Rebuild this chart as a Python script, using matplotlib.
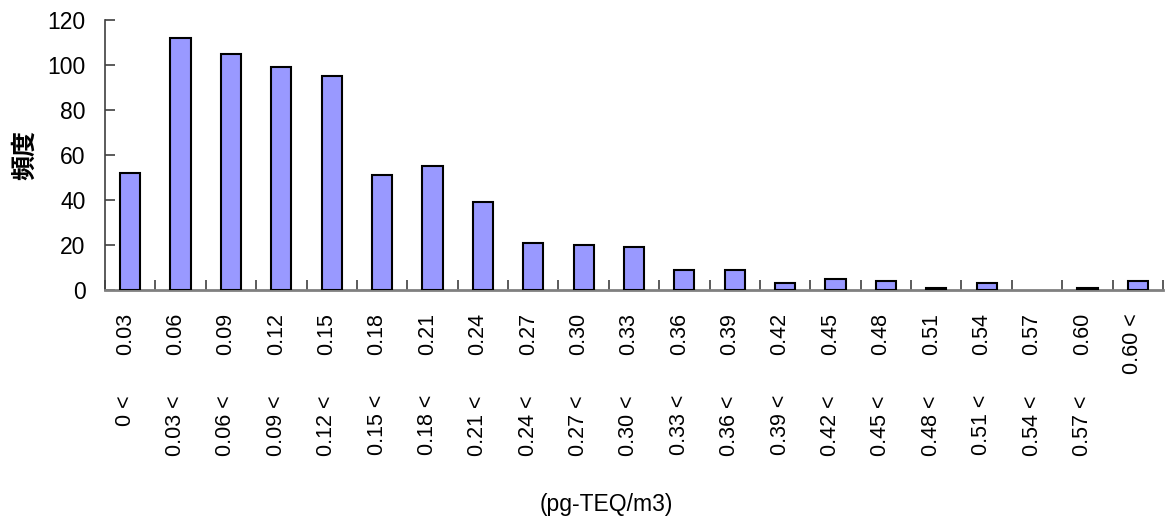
import matplotlib
matplotlib.use("Agg")
import matplotlib.pyplot as plt
import matplotlib.transforms as mtransforms

upper_labels = ["0.03", "0.06", "0.09", "0.12", "0.15", "0.18", "0.21", "0.24", "0.27", "0.30",
                "0.33", "0.36", "0.39", "0.42", "0.45", "0.48", "0.51", "0.54", "0.57", "0.60", "0.60 <"]
lower_labels = ["0 <", "0.03 <", "0.06 <", "0.09 <", "0.12 <", "0.15 <", "0.18 <", "0.21 <", "0.24 <",
                "0.27 <", "0.30 <", "0.33 <", "0.36 <", "0.39 <", "0.42 <", "0.45 <", "0.48 <", "0.51 <",
                "0.54 <", "0.57 <", ""]
counts = [52, 112, 105, 99, 95, 51, 55, 39, 21, 20, 19, 9, 9, 3, 5, 4, 1, 3, 0, 1, 4]
y_ticks = [0, 20, 40, 60, 80, 100, 120]

plt.rcParams['font.family'] = ['Liberation Sans', 'Noto Sans CJK JP', 'DejaVu Sans']

W, H = 1168, 518
fig = plt.figure(figsize=(W / 100, H / 100), dpi=100)
ax = fig.add_axes([105 / W, 1 - 290 / H, (1163 - 105) / W, (290 - 20) / H])

x = list(range(len(counts)))
ax.bar(x, counts, width=0.4, color="#9999FF", edgecolor="black",
       linewidth=[1.5 if c > 0 else 0 for c in counts], zorder=3)

ax.set_xlim(-0.5, len(counts) - 0.5)
ax.set_ylim(0, 120)
ax.set_yticks(y_ticks)
ax.set_yticklabels([str(v) for v in y_ticks], fontsize=16.5)
ax.set_xticks([i - 0.5 for i in range(len(counts) + 1)])
ax.set_xticklabels([])
ax.tick_params(axis='x', direction='in', length=7, width=1.2, color='#404040')
ax.tick_params(axis='y', direction='in', length=7, width=1.2, color='#404040', pad=14)

for s in ['top', 'right']:
    ax.spines[s].set_visible(False)
ax.spines['left'].set_color('#404040')
ax.spines['left'].set_linewidth(1.2)
ax.spines['bottom'].set_color('#808080')
ax.spines['bottom'].set_linewidth(2)

trans = mtransforms.blended_transform_factory(ax.transData, fig.transFigure)
for i, (u, l) in enumerate(zip(upper_labels, lower_labels)):
    ax.text(i - 0.1, 1 - 313 / H, u, rotation=90, ha='center', va='top', fontsize=15.5,
            transform=trans, clip_on=False)
    if l:
        ax.text(i - 0.1, 1 - 395 / H, l, rotation=90, ha='center', va='top', fontsize=15.5,
                transform=trans, clip_on=False)

fig.text(606 / W, 1 - 505 / H, "(pg-TEQ/m3)", ha='center', va='center', fontsize=16.5)
fig.text(25 / W, 1 - 155 / H, "頻度", rotation=90, ha='center', va='center', fontsize=18,
         family=['Noto Sans CJK JP', 'DejaVu Sans'], fontweight='bold')

fig.savefig("out.png", dpi=100)
